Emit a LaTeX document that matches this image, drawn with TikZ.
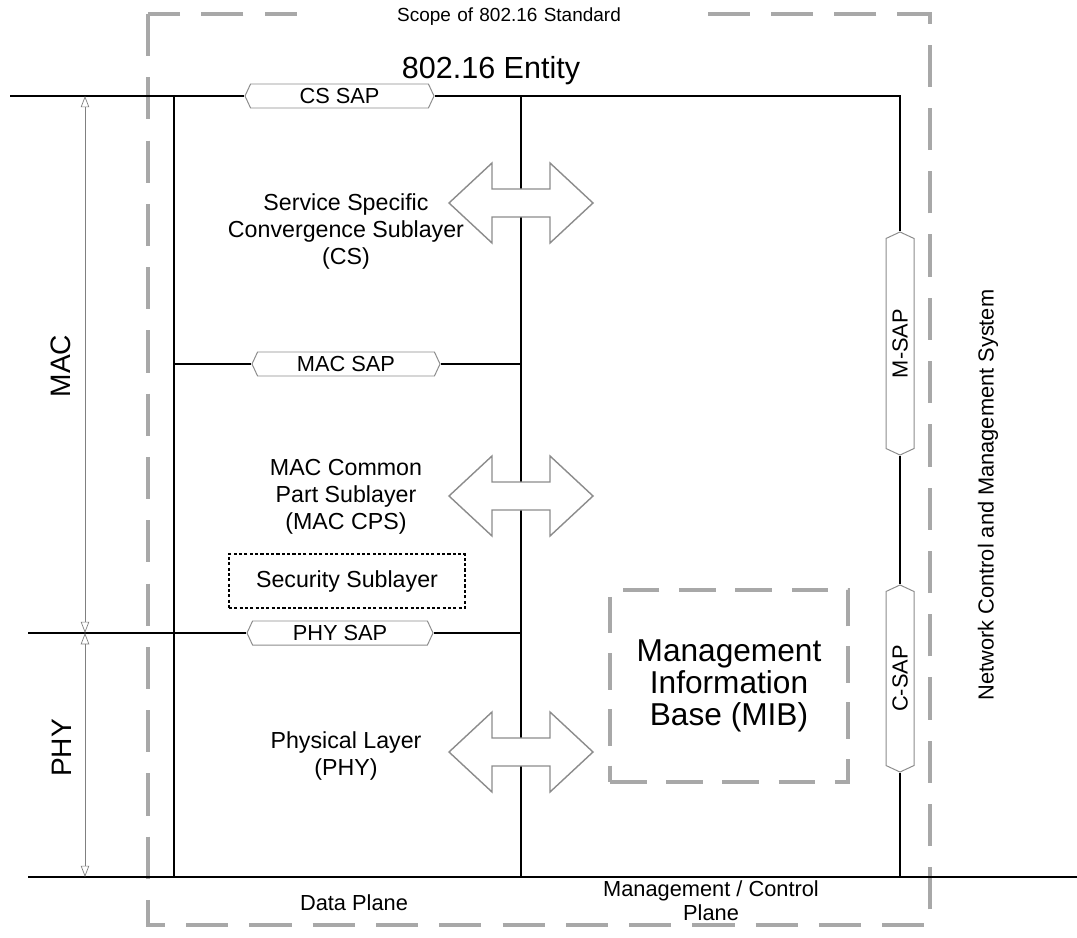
\documentclass[tikz,border=0pt]{standalone}
\usepackage{fontspec}
\setmainfont{Liberation Sans}
\usepackage{xcolor}
\usepackage{tikz}
\usetikzlibrary{positioning, arrows.meta, calc, shapes.symbols}
\definecolor{scopegray}{RGB}{168,168,168}
\definecolor{sapgray}{RGB}{140,140,140}
\tikzset{
  layerline/.style={
    line width=1.7pt,
    draw=black
  },
  scopebox/.style={
    draw=scopegray,
    line width=2.8pt,
    dash pattern=on 30pt off 15pt
  },
  mibbox/.style={
    rectangle,
    draw=scopegray,
    line width=2.8pt,
    dash pattern=on 26pt off 14pt,
    minimum width=5.95cm,
    minimum height=4.8cm,
    align=center,
    font=\fontsize{22.5}{22.8}\selectfont
  },
  sapnode/.style={
    signal,
    signal to=east and west,
    signal pointer angle=130,
    draw=sapgray,
    fill=white,
    line width=0.7pt,
    minimum height=0.6cm,
    inner sep=0pt,
    font=\fontsize{15.5}{18}\selectfont
  },
  secbox/.style={
    rectangle,
    draw=black,
    line width=1.1pt,
    dash pattern=on 2.2pt off 1.6pt,
    minimum width=5.9cm,
    minimum height=1.35cm,
    font=\fontsize{16.5}{19.2}\selectfont
  },
  layertext/.style={
    align=center,
    inner sep=0pt,
    font=\fontsize{16.5}{19.2}\selectfont
  },
  planetext/.style={
    align=center,
    inner sep=0pt,
    font=\fontsize{15.5}{17}\selectfont
  },
  sidetext/.style={
    rotate=90,
    inner sep=0pt,
    font=\fontsize{20}{24}\selectfont
  },
  dimline/.style={
    {Triangle[open,length=8pt,width=6pt]}-{Triangle[open,length=8pt,width=6pt]},
    draw=gray,
    line width=0.5pt
  },
  duplexarrow/.style={
    draw=sapgray,
    fill=white,
    line width=1pt,
    line join=miter
  },
  duplex/.pic={
    \draw[duplexarrow] (-72,0) -- (-29,-40) -- (-29,-14) -- (29,-14) -- (29,-40)
      -- (72,0) -- (29,40) -- (29,14) -- (-29,14) -- (-29,40) -- cycle;
  }
}

\begin{document}
\begin{tikzpicture}[x=0.025cm, y=-0.025cm]
  \useasboundingbox (0,0) rectangle (1077,938);

  \draw[scopebox] (148,14) rectangle (930,925);
  \node[fill=white, text width=9.75cm, align=center, inner sep=2pt,
    font=\fontsize{13.5}{16}\selectfont] (scope) at (495,17)
    {\hspace*{0.7cm}Scope of 802.16 Standard};
  \node[font=\fontsize{21.7}{26}\selectfont, inner sep=0pt] (entity) at (491,71) {802.16 Entity};

  \coordinate (topl) at (10,96);
  \coordinate (topr) at (900,96);
  \coordinate (botl) at (28,877);
  \coordinate (botend) at (1077,877);
  \coordinate (botr) at (900,877);
  \coordinate (dtop) at (174,96);
  \coordinate (dbot) at (174,877);
  \coordinate (mtop) at (521,96);
  \coordinate (mbot) at (521,877);
  \coordinate (macl) at (174,364);
  \coordinate (macr) at (521,364);
  \coordinate (phyl) at (28,633);
  \coordinate (phyr) at (521,633);
  \coordinate (dimtop) at (85,96);
  \coordinate (dimmid) at (85,633);
  \coordinate (dimbot) at (85,877);

  \node[sapnode, minimum width=4.725cm] (cssap) at (339.5,96) {CS SAP};
  \node[sapnode, minimum width=4.7cm] (macsap) at (346,364) {MAC SAP};
  \node[sapnode, minimum width=4.65cm] (physap) at (340,633) {PHY SAP};
  \node[sapnode, rotate=90, minimum width=5.575cm, minimum height=0.7cm] (msap) at (900,343.5) {M-SAP};
  \node[sapnode, rotate=90, minimum width=4.675cm, minimum height=0.7cm] (csap) at (900,678.5) {C-SAP};

  \draw[layerline] (topl) -- (cssap.west);
  \draw[layerline] (cssap.east) -- (topr) -- (msap.east);
  \draw[layerline] (msap.west) -- (csap.east);
  \draw[layerline] (csap.west) -- (botr);
  \draw[layerline] (botl) -- (botend);
  \draw[layerline] (dtop) -- (dbot);
  \draw[layerline] (mtop) -- (mbot);
  \draw[layerline] (macl) -- (macsap.west);
  \draw[layerline] (macsap.east) -- (macr);
  \draw[layerline] (phyl) -- (physap.west);
  \draw[layerline] (physap.east) -- (phyr);

  \draw[dimline] (dimtop) -- (dimmid);
  \draw[dimline] (dimmid) -- (dimbot);
  \node[sidetext] (maclabel) at (61,366) {MAC};
  \node[sidetext] (phylabel) at (62,748) {PHY};

  \pic at (521,203) {duplex};
  \pic at (521,496) {duplex};
  \pic at (521,752) {duplex};

  \node[layertext] (cs) at (346,231)
    {Service Specific\\Convergence Sublayer\\(CS)};
  \node[layertext] (cps) at (346,497)
    {MAC Common\\Part Sublayer\\(MAC CPS)};
  \node[secbox] (security) at (347,581) {Security Sublayer};
  \node[layertext] (phy) at (346,756)
    {Physical Layer\\(PHY)};
  \node[mibbox] (mib) at (729,686)
    {Management\\Information\\Base (MIB)};

  \node[sidetext, font=\fontsize{15.5}{18}\selectfont] (nms) at (988,495)
    {Network Control and Management System};
  \node[planetext] (dataplane) at (354,903) {Data Plane};
  \node[planetext] (mgmtplane) at (711,901) {Management / Control\\Plane};
\end{tikzpicture}
\end{document}
